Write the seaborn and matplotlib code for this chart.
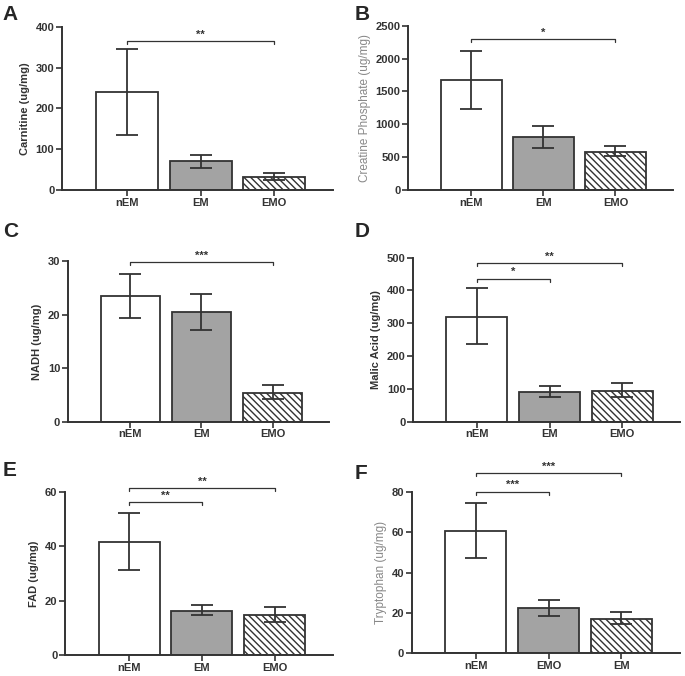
import pandas as pd
import seaborn as sns
import matplotlib.pyplot as plt

# groups per panel
groups_std = ["nEM", "EM", "EMO"]
groups_f = ["nEM", "EMO", "EM"]

carnitine = [240, 70, 33]
carnitine_lo = [135, 55, 25]
carnitine_hi = [345, 87, 42]

creatine = [1670, 800, 580]
creatine_lo = [1230, 640, 510]
creatine_hi = [2120, 975, 670]

nadh = [23.4, 20.4, 5.3]
nadh_lo = [19.3, 17.1, 4.2]
nadh_hi = [27.6, 23.9, 6.8]

malic = [320, 92, 95]
malic_lo = [237, 75, 77]
malic_hi = [408, 110, 118]

fad = [41.7, 16.3, 14.8]
fad_lo = [31.5, 14.8, 12.3]
fad_hi = [52.2, 18.3, 17.8]

trypt = [60.5, 22.3, 17.0]
trypt_lo = [47.0, 18.5, 14.3]
trypt_hi = [74.8, 26.5, 20.5]

panels = [
    # letter, groups, means, lo, hi, ylabel, ymax, step, label style, brackets (i, j, level, stars)
    ("A", groups_std, carnitine, carnitine_lo, carnitine_hi, "Carnitine (ug/mg)", 400, 100, "bold",
     [(0, 2, 366, "**")]),
    ("B", groups_std, creatine, creatine_lo, creatine_hi, "Creatine Phosphate (ug/mg)", 2500, 500, "gray",
     [(0, 2, 2290, "*")]),
    ("C", groups_std, nadh, nadh_lo, nadh_hi, "NADH (ug/mg)", 30, 10, "bold",
     [(0, 2, 29.8, "***")]),
    ("D", groups_std, malic, malic_lo, malic_hi, "Malic Acid (ug/mg)", 500, 100, "bold",
     [(0, 1, 436, "*"), (0, 2, 482, "**")]),
    ("E", groups_std, fad, fad_lo, fad_hi, "FAD (ug/mg)", 60, 20, "bold",
     [(0, 1, 56.3, "**"), (0, 2, 61.5, "**")]),
    ("F", groups_f, trypt, trypt_lo, trypt_hi, "Tryptophan (ug/mg)", 80, 20, "gray",
     [(0, 1, 80.2, "***"), (0, 2, 89.6, "***")]),
]

# axes rectangles in figure fractions
rects = [
    [0.0905, 0.719, 0.396, 0.241],
    [0.5956, 0.719, 0.387, 0.243],
    [0.099, 0.376, 0.382, 0.238],
    [0.603, 0.376, 0.390, 0.243],
    [0.095, 0.031, 0.391, 0.241],
    [0.601, 0.034, 0.391, 0.238],
]
letter_pos = [(0.004, 0.993), (0.518, 0.993), (0.004, 0.672), (0.518, 0.672),
              (0.004, 0.318), (0.518, 0.314)]

sns.set_style("ticks")
plt.rcParams['font.family'] = ['Liberation Sans', 'DejaVu Sans']
plt.rcParams['hatch.linewidth'] = 1.0

dark = "#333333"
fig = plt.figure(figsize=(6.85, 6.76), dpi=100)

for (letter, groups, means, lo, hi, ylabel, ymax, step, style, brackets), rect, lp in zip(panels, rects, letter_pos):
    ax = fig.add_axes(rect)
    df = pd.DataFrame({"group": groups, "value": means})
    sns.barplot(data=df, x="group", y="value", order=groups, ax=ax, errorbar=None,
                width=0.84, color="white", edgecolor=dark, linewidth=1.3)
    fills = ["white", "#a3a3a3", "white"]
    for k, p in enumerate(ax.patches):
        p.set_facecolor(fills[k])
        p.set_edgecolor(dark)
        if k == 2:
            p.set_hatch("\\\\\\\\\\")
    yerr = [[m - l for m, l in zip(means, lo)], [h - m for m, h in zip(means, hi)]]
    ax.errorbar(range(len(groups)), means, yerr=yerr, fmt="none", ecolor=dark,
                elinewidth=1.3, capsize=8, capthick=1.3, zorder=5)

    ax.set_xlim(-0.88, 2.8)
    ax.set_ylim(0, ymax)
    ax.set_yticks(range(0, ymax + 1, step))
    ax.set_xlabel("")
    sns.despine(ax=ax)
    for s in ["left", "bottom"]:
        ax.spines[s].set_linewidth(1.4)
        ax.spines[s].set_color(dark)
    ax.tick_params(axis="both", length=4, width=1.2, color=dark, labelsize=8,
                   labelcolor=dark, pad=1.5)
    for t in ax.get_xticklabels() + ax.get_yticklabels():
        t.set_fontweight("bold")
    if style == "bold":
        ax.set_ylabel(ylabel, fontsize=8, fontweight="bold", color=dark, labelpad=4)
    else:
        ax.set_ylabel(ylabel, fontsize=8.5, color="#888888", labelpad=3)

    drop = ymax * 0.018
    for i, j, level, stars in brackets:
        ax.plot([i, i, j, j], [level - drop, level, level, level - drop], color=dark,
                lw=0.9, clip_on=False)
        ax.annotate(stars, xy=((i + j) / 2, level), xytext=(0, 1), textcoords="offset points",
                    ha="center", va="bottom", fontsize=8, fontweight="bold", color=dark,
                    annotation_clip=False)

    fig.text(lp[0], lp[1], letter, fontsize=15, fontweight="bold", va="top", ha="left")

fig.savefig("out.png", dpi=100)
